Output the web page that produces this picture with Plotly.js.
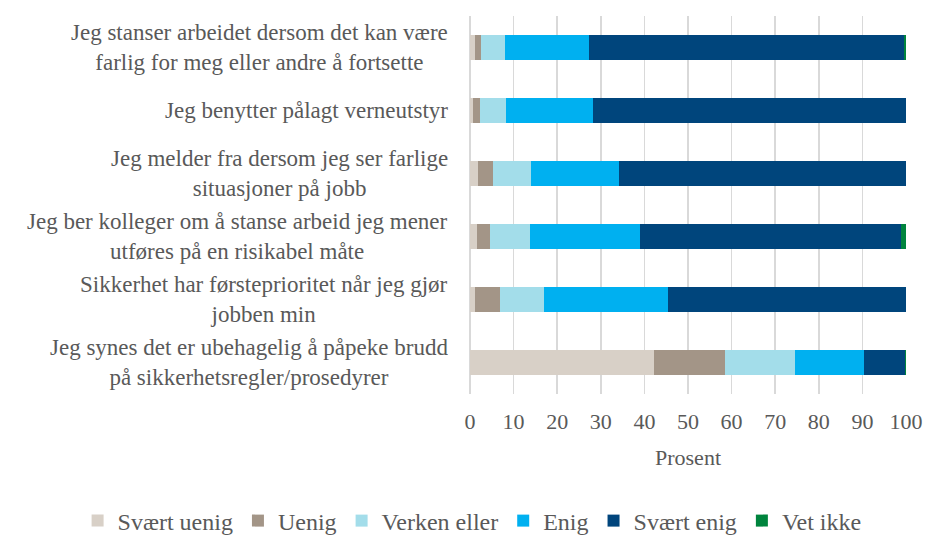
<!DOCTYPE html>
<html>
<head>
<meta charset="utf-8">
<script src="https://cdn.plot.ly/plotly-3.0.1.min.js"></script>
<style>html,body{margin:0;padding:0;background:#fff;}#chart{width:927px;height:536px;}</style>
</head>
<body>
<div id="chart"></div>
<script>
// Categories, top to bottom
const categories = [
  "Jeg stanser arbeidet dersom det kan være<br>farlig for meg eller andre å fortsette",
  "Jeg benytter pålagt verneutstyr",
  "Jeg melder fra dersom jeg ser farlige<br>situasjoner på jobb",
  "Jeg ber kolleger om å stanse arbeid jeg mener<br>utføres på en risikabel måte",
  "Sikkerhet har førsteprioritet når jeg gjør<br>jobben min",
  "Jeg synes det er ubehagelig å påpeke brudd<br>på sikkerhetsregler/prosedyrer"
];
const seriesNames = ["Svært uenig", "Uenig", "Verken eller", "Enig", "Svært enig", "Vet ikke"];
const svaertUenig = [1.2, 0.7, 1.8, 1.5, 1.1, 42.3];
const uenig       = [1.3, 1.7, 3.4, 3.1, 5.7, 16.2];
const verkenEller = [5.6, 5.8, 8.7, 9.2, 10.1, 16.1];
const enig        = [19.2, 19.9, 20.2, 25.2, 28.5, 15.7];
const svaertEnig  = [72.3, 71.8, 66.0, 59.8, 54.5, 9.55];
const vetIkke     = [0.4, 0.0, 0.0, 1.2, 0.0, 0.15];
const xTicks = [0, 10, 20, 30, 40, 50, 60, 70, 80, 90, 100];
const xTitle = "Prosent";

const colors = ["#d8d0c7", "#a39587", "#a3ddea", "#00b0f0", "#00457c", "#00843d"];
const values = [svaertUenig, uenig, verkenEller, enig, svaertEnig, vetIkke];
const FONT = "'Liberation Serif', 'Times New Roman', serif";
const TXT = "#595959";

const traces = seriesNames.map((name, i) => ({
  type: "bar",
  orientation: "h",
  name: name,
  y: categories,
  x: values[i],
  marker: {color: colors[i], line: {width: 0}},
  hoverinfo: "x+name"
}));

const annotations = categories.map(c => ({
  xref: "paper", yref: "y", x: 0, y: c,
  xanchor: "right", yanchor: "middle", xshift: -20,
  text: c, showarrow: false, align: "center",
  font: {family: FONT, size: 23, color: TXT}
}));

const layout = {
  width: 927, height: 536,
  margin: {l: 470, r: 21, t: 16, b: 142, autoexpand: false},
  paper_bgcolor: "#fff", plot_bgcolor: "#fff",
  barmode: "stack",
  bargap: 0.6,
  font: {family: FONT, size: 22, color: TXT},
  xaxis: {
    range: [0, 100],
    tickvals: xTicks,
    ticktext: xTicks.map(String),
    showgrid: true, gridcolor: "#d9d9d9", gridwidth: 1.5,
    zeroline: true, zerolinecolor: "#d9d9d9", zerolinewidth: 1.5,
    showline: false, ticks: "",
    ticklabelstandoff: 12,
    tickfont: {family: FONT, size: 22, color: TXT},
    title: {text: xTitle, font: {family: FONT, size: 22, color: TXT}, standoff: 16}
  },
  yaxis: {
    autorange: "reversed",
    showticklabels: false,
    showgrid: false, zeroline: false, showline: false, ticks: ""
  },
  annotations: annotations,
  showlegend: true,
  legend: {
    orientation: "h",
    x: -0.9, xanchor: "left",
    y: -0.336, yanchor: "middle",
    traceorder: "normal",
    font: {family: FONT, size: 24, color: TXT},
    itemwidth: 30
  }
};

Plotly.newPlot("chart", traces, layout, {displayModeBar: false, staticPlot: true});
</script>
</body>
</html>
